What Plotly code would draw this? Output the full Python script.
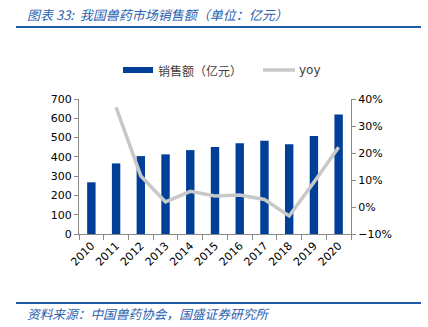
import plotly.graph_objects as go

years = ["2010", "2011", "2012", "2013", "2014", "2015", "2016", "2017", "2018", "2019", "2020"]
sales = [268, 366, 404, 413, 435, 451, 471, 483, 466, 508, 620]
yoy = [None, 36.9, 11.5, 1.9, 5.8, 4.1, 4.4, 2.8, -3.3, 9.2, 22.1]

BLUE = "#003F98"
GRAY = "#C8C8C8"
AX = "#888888"
FONT = "DejaVu Sans"

fig = go.Figure()
fig.add_trace(go.Bar(x=years, y=sales, name="销售额（亿元）", marker_color=BLUE,
                     marker_line_width=0, showlegend=False))
fig.add_trace(go.Scatter(x=years, y=yoy, name="yoy", mode="lines", yaxis="y2",
                         line=dict(color=GRAY, width=3.5), showlegend=False,
                         connectgaps=False))

W, H = 428, 327
L, R, T, B = 79, 77, 99, 93
pw, ph = W - L - R, H - T - B

def px(x):
    return (x - L) / pw

def py(y):
    return (H - B - y) / ph

shapes = [
    dict(type="line", xref="paper", yref="paper", x0=px(16), x1=px(421), y0=py(27), y1=py(27),
         line=dict(color="#1F5AA8", width=2)),
    dict(type="line", xref="paper", yref="paper", x0=px(16), x1=px(421), y0=py(303), y1=py(303),
         line=dict(color="#1F5AA8", width=2)),
    dict(type="rect", xref="paper", yref="paper", x0=px(123), x1=px(153), y0=py(67), y1=py(73),
         fillcolor=BLUE, line_width=0),
    dict(type="line", xref="paper", yref="paper", x0=px(263), x1=px(295), y0=py(70), y1=py(70),
         line=dict(color=GRAY, width=3.5)),
]

annotations = [
    dict(text="图表 33:  我国兽药市场销售额（单位：亿元）", xref="paper", yref="paper",
         x=px(25), y=py(14), xanchor="left", yanchor="middle", showarrow=False,
         font=dict(family="Noto Sans CJK SC", size=13, color="#2A62B0", style="italic")),
    dict(text="资料来源：中国兽药协会，国盛证券研究所", xref="paper", yref="paper",
         x=px(25), y=py(313), xanchor="left", yanchor="middle", showarrow=False,
         font=dict(family="Noto Sans CJK SC", size=12.7, color="#2A62B0", style="italic")),
    dict(text="销售额（亿元）", xref="paper", yref="paper",
         x=px(156), y=py(70), xanchor="left", yanchor="middle", showarrow=False,
         font=dict(family="Noto Sans CJK SC", size=12, color="#404040")),
    dict(text="yoy", xref="paper", yref="paper",
         x=px(297), y=py(70), xanchor="left", yanchor="middle", showarrow=False,
         font=dict(family=FONT, size=12, color="#404040")),
]

fig.update_layout(
    width=W, height=H,
    margin=dict(l=L, r=R, t=T, b=B),
    paper_bgcolor="white", plot_bgcolor="white",
    bargap=0.66,
    showlegend=False,
    shapes=shapes,
    annotations=annotations,
    font=dict(family=FONT, size=11, color="#000000"),
    xaxis=dict(type="category", tickangle=-45, showline=True, linecolor=AX, linewidth=1,
               ticks="outside", tickson="boundaries", ticklen=5, tickcolor=AX,
               showgrid=False, tickfont=dict(size=11)),
    yaxis=dict(range=[0, 700], dtick=100, showline=True, linecolor=AX, linewidth=1,
               ticks="outside", ticklen=4, tickcolor=AX, showgrid=False, zeroline=False,
               tickfont=dict(size=11)),
    yaxis2=dict(range=[-10, 40], dtick=10, overlaying="y", side="right", ticksuffix="%",
                showline=True, linecolor=AX, linewidth=1, ticks="outside", ticklen=4,
                tickcolor=AX, showgrid=False, zeroline=False, tickfont=dict(size=11)),
)

fig.write_html("out.html")
